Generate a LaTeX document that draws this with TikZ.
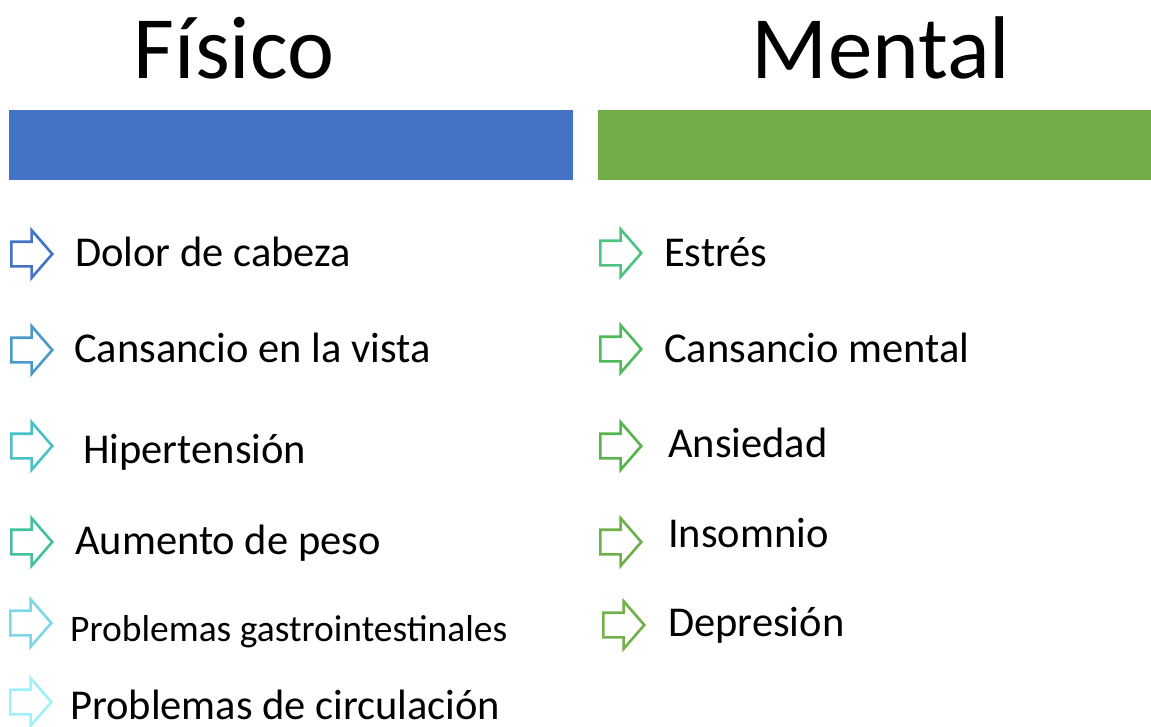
\documentclass[tikz,border=0pt]{standalone}
\usepackage{fontspec}
\setmainfont{Carlito}
\usetikzlibrary{shapes.arrows}

\definecolor{fisblue}{HTML}{4472C4}
\definecolor{mentgreen}{HTML}{70AD47}
\definecolor{fa}{HTML}{4472C4}
\definecolor{fb}{HTML}{4A99C9}
\definecolor{fc}{HTML}{4ABFC6}
\definecolor{fd}{HTML}{45C09C}
\definecolor{fe}{HTML}{7DD8E5}
\definecolor{ff}{HTML}{A0F0FA}
\definecolor{ma}{HTML}{4CC383}
\definecolor{mb}{HTML}{50BA5A}
\definecolor{mc}{HTML}{55B54A}
\definecolor{md}{HTML}{6DB04A}
\definecolor{me}{HTML}{72B04C}

\begin{document}
\begin{tikzpicture}[x=1pt,y=-1pt,
  title/.style={anchor=base,inner sep=0pt,font=\fontsize{89}{96}\selectfont},
  item/.style={anchor=base west,inner sep=0pt,font=\fontsize{42.5}{50}\selectfont},
  pointer/.style={single arrow,draw=#1,line width=2.6pt,anchor=tail,
    inner xsep=0pt,inner ysep=11pt,minimum height=41pt,
    single arrow head extend=11.5pt,single arrow tip angle=98}]
\useasboundingbox (0,0) rectangle (1151,726);
% titles and bars
\node[title](fis) at (234,78){Físico};
\node[title](men) at (881,78){Mental};
\fill[fisblue] (9,110) rectangle (573,180);
\fill[mentgreen] (598,110) rectangle (1151,180);
% left column
\node[pointer=fa](fa) at (10,254){};
\node[pointer=fb](fb) at (10,350){};
\node[pointer=fc](fc) at (10,446){};
\node[pointer=fd](fd) at (10,542){};
\node[pointer=fe](fe) at (9,623){};
\node[pointer=ff](ff) at (9,702){};
\node[item](ta) at (75,266){Dolor de cabeza};
\node[item](tb) at (74,362){Cansancio en la vista};
\node[item](tc) at (83,463){Hipertensión};
\node[item](td) at (75,554){Aumento de peso};
\node[item,font=\fontsize{37.5}{44}\selectfont](te) at (70,641){Problemas gastrointestinales};
\node[item](tf) at (70,719){Problemas de circulación};
% right column
\node[pointer=ma](ma) at (599,253){};
\node[pointer=mb](mb) at (599,349){};
\node[pointer=mc](mc) at (599,446){};
\node[pointer=md](md) at (599,542){};
\node[pointer=me](me) at (602,625){};
\node[item](sa) at (664,266){Estrés};
\node[item](sb) at (664,362){Cansancio mental};
\node[item](sc) at (668,457){Ansiedad};
\node[item](sd) at (668,547){Insomnio};
\node[item](se) at (668,636){Depresión};
\end{tikzpicture}
\end{document}
